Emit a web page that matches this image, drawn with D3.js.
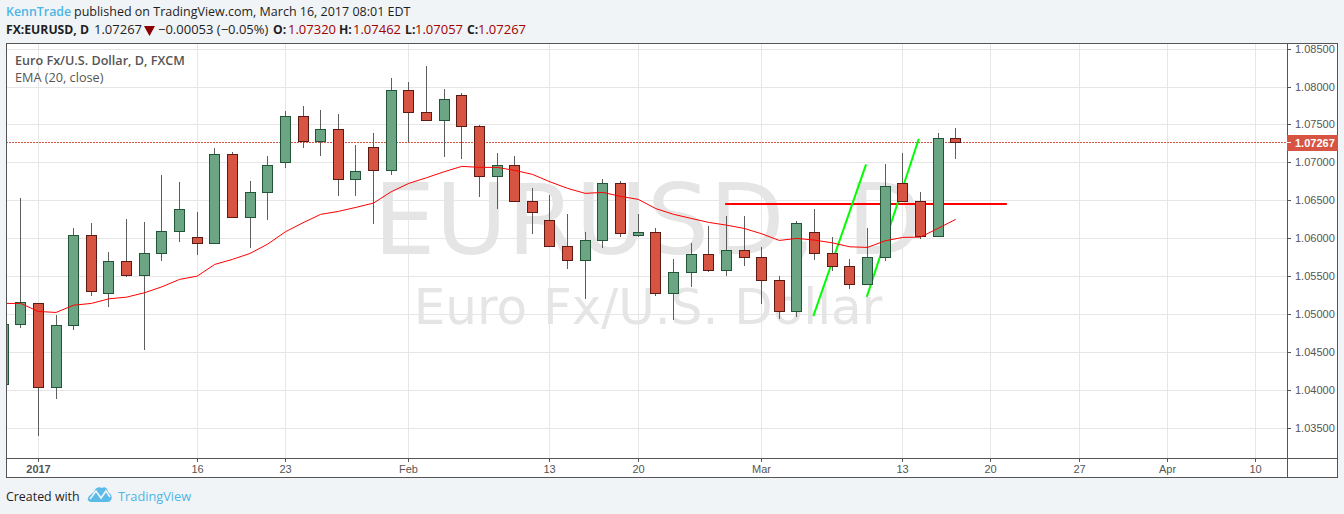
<!DOCTYPE html>
<html><head><meta charset="utf-8">
<script src="https://cdnjs.cloudflare.com/ajax/libs/d3/7.8.5/d3.min.js"></script>
<style>html,body{margin:0;padding:0;background:#f1f4f7;overflow:hidden}svg{display:block}</style>
</head><body><svg id="c" width="1344" height="514"></svg>
<script>
const opens=[1.04081,1.04873,1.05150,1.04041,1.04859,1.06047,1.05282,1.05704,1.05519,1.05810,1.06100,1.06021,1.05942,1.07117,1.06285,1.06615,1.07006,1.07618,1.07283,1.07447,1.06787,1.07209,1.06905,1.07961,1.07671,1.07565,1.07895,1.07486,1.06826,1.06966,1.06496,1.06245,1.05902,1.05717,1.05981,1.06734,1.06047,1.06087,1.05282,1.05559,1.05797,1.05585,1.05849,1.05757,1.05453,1.05044,1.06087,1.05810,1.05638,1.05401,1.05757,1.06734,1.06496,1.06029,1.07320];
const highs=[1.04950,1.06536,1.05150,1.04991,1.06140,1.06210,1.05823,1.06259,1.06219,1.06843,1.06747,1.06351,1.07196,1.07143,1.06764,1.07094,1.07688,1.07754,1.07701,1.07649,1.07239,1.07394,1.08124,1.08071,1.08282,1.07975,1.07913,1.07503,1.07130,1.07094,1.06668,1.06579,1.06329,1.06091,1.06787,1.06760,1.06329,1.06144,1.05735,1.05946,1.06170,1.06302,1.06302,1.05893,1.05510,1.06236,1.06395,1.06025,1.05735,1.06144,1.06989,1.07134,1.06619,1.07398,1.07462];
const lows=[1.04050,1.04828,1.03402,1.03891,1.04801,1.05250,1.05105,1.05501,1.04537,1.05712,1.05963,1.05791,1.05942,1.06285,1.05884,1.06253,1.06940,1.07204,1.07107,1.06570,1.06579,1.06201,1.06847,1.07292,1.07565,1.07085,1.07059,1.06557,1.06399,1.06496,1.06069,1.05902,1.05607,1.05211,1.05884,1.06029,1.06029,1.05250,1.04933,1.05369,1.05567,1.05514,1.05646,1.05145,1.04947,1.04973,1.05735,1.05580,1.05343,1.05401,1.05712,1.06496,1.06003,1.06029,1.07057];
const closes=[1.04873,1.05163,1.04041,1.04859,1.06047,1.05308,1.05704,1.05519,1.05810,1.06100,1.06391,1.05942,1.07117,1.06285,1.06615,1.06971,1.07618,1.07283,1.07447,1.06787,1.06892,1.06905,1.07961,1.07671,1.07565,1.07843,1.07486,1.06826,1.06966,1.06496,1.06351,1.05902,1.05717,1.05981,1.06734,1.06074,1.06087,1.05282,1.05559,1.05797,1.05585,1.05849,1.05757,1.05453,1.05044,1.06206,1.05810,1.05638,1.05401,1.05757,1.06694,1.06496,1.06029,1.07320,1.07267];
const ema=[1.05150,1.05150,1.05044,1.05031,1.05127,1.05150,1.05211,1.05233,1.05290,1.05369,1.05467,1.05510,1.05665,1.05731,1.05810,1.05933,1.06095,1.06214,1.06325,1.06364,1.06417,1.06474,1.06623,1.06734,1.06808,1.06887,1.06958,1.06945,1.06945,1.06905,1.06853,1.06755,1.06668,1.06602,1.06615,1.06562,1.06523,1.06401,1.06326,1.06272,1.06219,1.06183,1.06140,1.06069,1.05981,1.06008,1.05985,1.05950,1.05897,1.05889,1.05976,1.06021,1.06025,1.06140,1.06259];
const yTicks=[1.085,1.08,1.075,1.07,1.065,1.06,1.055,1.05,1.045,1.04,1.035];
const xTickIndex=[2,11,16,23,31,36,43,51,56,61,66,71];
const xTickLabels=["2017","16","23","Feb","13","20","Mar","13","20","27","Apr","10"];
const lastPrice=1.07267;
const levelLine={from:40.93,to:56.9,price:1.06461};
const trendLines=[{i0:45.93,p0:1.04982,i1:48.92,p1:1.06985},{i0:48.96,p0:1.05237,i1:51.91,p1:1.07323}];

const L=6,T=43,R=1287,B=458,OR=1337,OB=477;
const svg=d3.select("#c");
const x=d3.scaleLinear().domain([0,71]).rangeRound([2.62,1255.06]);
const xl=d3.scaleLinear().domain([0,71]).range([3.12,1255.56]);
const y=d3.scaleLinear().domain([1.085,1.035]).rangeRound([49,428]);
const yg=d3.scaleLinear().domain([1.085,1.035]).rangeRound([48.65,427.65]);
const yl=d3.scaleLinear().domain([1.085,1.035]).range([49.5,428.5]);
const sans='"Open Sans",sans-serif', ar='"Liberation Sans",Arial,sans-serif';
const dark="#1e1e1e";

svg.append("rect").attr("x",L+.5).attr("y",T+.5).attr("width",OR-L).attr("height",OB-T).attr("fill","#fff");
svg.append("defs").append("clipPath").attr("id","pc").append("rect").attr("x",L+1).attr("y",T+1).attr("width",R-L-1).attr("height",B-T-1);

const grid=svg.append("g");
grid.selectAll(".gv").data(xTickIndex).join("line").attr("x1",d=>x(d)+.5).attr("x2",d=>x(d)+.5).attr("y1",T).attr("y2",B).attr("stroke","#e6e6e6");
grid.selectAll(".gh").data(yTicks).join("line").attr("y1",d=>yg(d)+.5).attr("y2",d=>yg(d)+.5).attr("x1",L).attr("x2",R).attr("stroke","#e6e6e6");

const wm=svg.append("g").attr("fill","#e5e5e5").attr("text-anchor","middle").attr("font-family",'"DejaVu Sans",sans-serif');
wm.append("text").attr("x",648).attr("y",254).attr("font-size",98).text("EURUSD, D");
wm.append("text").attr("x",648).attr("y",324).attr("font-size",50).text("Euro Fx/U.S. Dollar");

const p=svg.append("g").attr("clip-path","url(#pc)");
p.append("line").attr("x1",L).attr("x2",R).attr("y1",y(lastPrice)+.5).attr("y2",y(lastPrice)+.5).attr("stroke","#d75442").attr("stroke-dasharray","2 1");
p.append("line").attr("x1",xl(levelLine.from)).attr("x2",xl(levelLine.to)).attr("y1",yl(levelLine.price)).attr("y2",yl(levelLine.price)).attr("stroke","#ff0000").attr("stroke-width",2);
p.selectAll(".t").data(trendLines).join("line").attr("x1",d=>xl(d.i0)).attr("y1",d=>yl(d.p0)).attr("x2",d=>xl(d.i1)).attr("y2",d=>yl(d.p1)).attr("stroke","#00ff00").attr("stroke-width",2);

const idx=d3.range(opens.length);
p.selectAll(".w").data(idx).join("line").attr("x1",i=>x(i)+.5).attr("x2",i=>x(i)+.5).attr("y1",i=>y(highs[i])).attr("y2",i=>y(lows[i])+1).attr("stroke","#5d5d5d");
p.selectAll(".b").data(idx).join("rect")
 .attr("x",i=>x(i)-4.5).attr("width",10)
 .attr("y",i=>y(Math.max(opens[i],closes[i]))+.5)
 .attr("height",i=>Math.max(1,y(Math.min(opens[i],closes[i]))-y(Math.max(opens[i],closes[i]))))
 .attr("fill",i=>closes[i]>=opens[i]?"#6ba583":"#d75442")
 .attr("stroke",i=>closes[i]>=opens[i]?"#225437":"#5b1a13");
p.append("path").datum(ema).attr("fill","none").attr("stroke","#ff0000").attr("stroke-width",1)
 .attr("d",d3.line().x((d,i)=>xl(i)).y(d=>yl(d)));

const border=svg.append("g").attr("fill","none").attr("stroke","#555");
border.append("rect").attr("x",L+.5).attr("y",T+.5).attr("width",OR-L).attr("height",OB-T);
border.append("line").attr("x1",R+.5).attr("x2",R+.5).attr("y1",T).attr("y2",OB);
border.append("line").attr("x1",L).attr("x2",OR).attr("y1",B+.5).attr("y2",B+.5);

const ay=svg.append("g").attr("transform",`translate(${R},0)`).call(d3.axisRight(yg).tickValues(yTicks).tickSize(4).tickPadding(4).tickFormat(d3.format(".5f")));
ay.select(".domain").remove();
ay.selectAll("line").attr("stroke","#555");
ay.selectAll("text").attr("font-family",ar).attr("font-size",11).attr("fill","#555");
const ax=svg.append("g").attr("transform",`translate(0,${B})`).call(d3.axisBottom(x).tickValues(xTickIndex).tickSize(4).tickPadding(3).tickFormat((d,i)=>xTickLabels[i]));
ax.select(".domain").remove();
ax.selectAll("line").attr("stroke","#555");
ax.selectAll("text").attr("font-family",ar).attr("font-size",11).attr("fill","#555").attr("font-weight",(d,i)=>xTickLabels[i]==="2017"?"bold":"normal");

const ly=y(lastPrice)+.5;
svg.append("rect").attr("x",R).attr("y",135).attr("width",OR-R+1).attr("height",16).attr("fill","#d75442");
svg.append("line").attr("x1",R).attr("x2",R+4).attr("y1",ly).attr("y2",ly).attr("stroke","#fff");
svg.append("text").attr("x",1295).attr("y",147).attr("font-family",ar).attr("font-size",11).attr("font-weight","bold").attr("fill","#fff").text(d3.format(".5f")(lastPrice));

const tx=(s,xp,yp,o={})=>svg.append("text").attr("x",xp).attr("y",yp).attr("font-family",sans).attr("font-size",o.size||13).attr("font-weight",o.w||"normal").attr("fill",o.c||dark).text(s);
tx("KennTrade",6,16,{c:"#4db6e6",w:600,size:12.4});
tx("published on TradingView.com, March 16, 2017 08:01 EDT",74,16,{size:12.5});
tx("FX:EURUSD, D",6,34,{w:"bold",size:12.2});
tx("1.07267",94,34);
svg.append("path").attr("d","M144,26H155L149.5,36Z").attr("fill","#8b0000");
tx("\u22120.00053 (\u22120.05%)",158,34);
const ohlc=[["O:",273,"1.07320",288],["H:",339,"1.07462",353],["L:",405,"1.07057",415],["C:",467,"1.07267",478]];
ohlc.forEach(r=>{tx(r[0],r[1],34,{w:"bold",size:12.2});tx(r[2],r[3],34,{c:"#a00000"});});
tx("Euro Fx/U.S. Dollar, D, FXCM",15,65,{w:600,c:"#555",size:12.6});
tx("EMA (20, close)",15,82,{c:"#555",size:12.7});
tx("Created with",6,501,{size:12.4});
const logo=svg.append("g");
logo.append("path").attr("d","M88,498C89,495 92,494 94,492C95,488 99,486 102,488C105,486 108,489 108,492C111,494 113,497 111,500C110,502 108,502 106,502H92C89,502 87,500 88,498Z").attr("fill","#5bbbe8");
logo.append("path").attr("d","M90,499L96,491L101,498L106,491L110,497").attr("fill","none").attr("stroke","#f1f4f7").attr("stroke-width",1.6);
tx("TradingView",118,501,{c:"#4db6e6",size:12.8});
</script></body></html>
